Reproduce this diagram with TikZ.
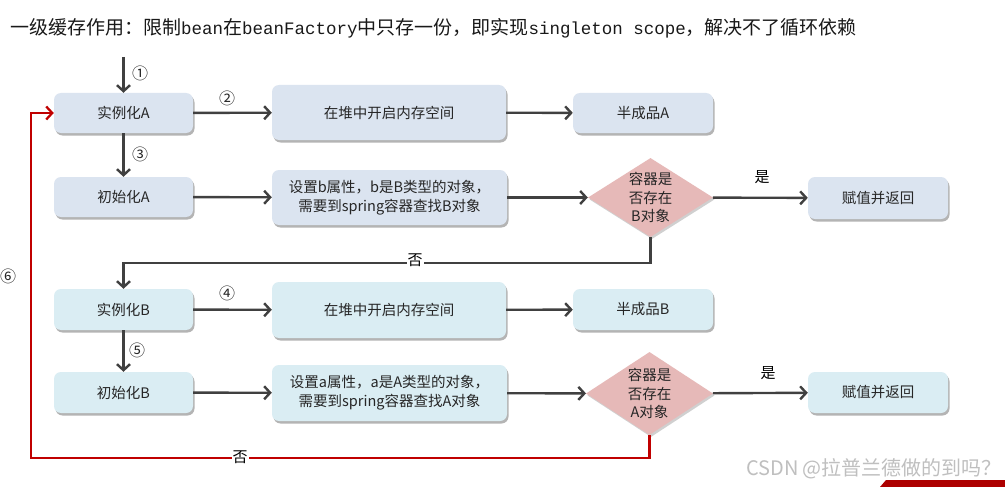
\documentclass[tikz,border=0pt]{standalone}
\usepackage{fontspec}
\setmainfont{Noto Sans CJK SC}
\newfontfamily\tmono{Liberation Mono}[Scale=0.92]
\usetikzlibrary{arrows.meta,shapes.geometric,shadows}
\definecolor{fillA}{RGB}{219,228,240}
\definecolor{fillB}{RGB}{218,237,243}
\definecolor{fillD}{RGB}{230,185,184}
\definecolor{linegray}{RGB}{64,64,64}
\definecolor{loopred}{RGB}{192,0,0}
\definecolor{inkgray}{RGB}{38,38,38}
\tikzset{
  box/.style={rounded corners=7pt, align=center, inner sep=0pt,
    font=\fontsize{14.5}{19}\selectfont, text=inkgray,
    drop shadow={shadow xshift=1.5pt, shadow yshift=-2.5pt, opacity=.45, fill=black!65}},
  boxA/.style={box, fill=fillA},
  boxB/.style={box, fill=fillB},
  decision/.style={diamond, fill=fillD, inner sep=-9pt, align=center,
    font=\fontsize{14.5}{18.5}\selectfont, text=inkgray,
    drop shadow={shadow xshift=1.5pt, shadow yshift=-2pt, opacity=.3, fill=black!60}},
  arr/.style={draw=linegray, line width=2.4pt, -{Straight Barb[length=6pt,width=13pt]}},
  redarr/.style={draw=loopred, line width=2.3pt, -{Straight Barb[length=6pt,width=13pt]}},
  num/.style={font=\fontsize{16}{16}\selectfont, text=inkgray, inner sep=0pt},
  lbl/.style={font=\fontsize{15}{15}\selectfont, text=black, inner sep=1pt},
}
\begin{document}
\begin{tikzpicture}[x=1pt,y=-1pt]
\useasboundingbox[fill=white] (0,0) rectangle (1005,487);

% heading
\node[anchor=west, inner sep=0pt, text=black!90, font=\fontsize{19}{19}\selectfont] (title) at (10,28)
  {一级缓存作用：限制{\tmono bean}在{\tmono beanFactory}中只存一份，即实现{\tmono singleton scope}，解决不了循环依赖};

% A chain
\node[boxA, minimum width=139pt, minimum height=40pt] (instA) at (123.5,113) {实例化A};
\node[boxA, minimum width=139pt, minimum height=40pt] (initA) at (123.5,197) {初始化A};
\node[boxA, minimum width=234pt, minimum height=55pt] (heapA) at (389,112.5) {在堆中开启内存空间};
\node[boxA, minimum width=140pt, minimum height=40pt] (halfA) at (643,113) {半成品A};
\node[boxA, minimum width=235pt, minimum height=55pt] (setB) at (389.5,197.5) {设置b属性，b是B类型的对象，\\需要到spring容器查找B对象};
\node[decision, minimum width=125pt, minimum height=79pt] (diaB) at (650.5,197.5) {容器是\\否存在\\B对象};
\node[boxA, minimum width=140pt, minimum height=42pt] (retA) at (878,198) {赋值并返回};

% B chain
\node[boxB, minimum width=139pt, minimum height=41pt] (instB) at (123.5,309.5) {实例化B};
\node[boxB, minimum width=139pt, minimum height=41pt] (initB) at (123.5,392.5) {初始化B};
\node[boxB, minimum width=234pt, minimum height=56pt] (heapB) at (389,310) {在堆中开启内存空间};
\node[boxB, minimum width=140pt, minimum height=41pt] (halfB) at (643,309.5) {半成品B};
\node[boxB, minimum width=235pt, minimum height=56pt] (setA) at (389.5,393) {设置a属性，a是A类型的对象，\\需要到spring容器查找A对象};
\node[decision, minimum width=127pt, minimum height=83pt] (diaA) at (649.5,393.5) {容器是\\否存在\\A对象};
\node[boxB, minimum width=140pt, minimum height=41pt] (retB) at (878,392.5) {赋值并返回};

% connectors
\coordinate (entry) at (123.5,57);
\coordinate (loopL) at (31,458);
\draw[arr] (entry) -- (instA);
\draw[arr] (instA) -- (heapA);
\draw[arr] (heapA) -- (halfA);
\draw[arr] (instA) -- (initA);
\draw[arr] (initA) -- (setB);
\draw[arr] (setB) -- (diaB);
\draw[arr] (diaB) -- (retA);
\draw[arr] (diaB.south) -- ++(0,26) -| (instB.north);
\draw[arr] (instB) -- (heapB);
\draw[arr] (heapB) -- (halfB);
\draw[arr] (instB) -- (initB);
\draw[arr] (initB) -- (setA);
\draw[arr] (setA) -- (diaA);
\draw[arr] (diaA) -- (retB);
\draw[redarr] (diaA.south) |- (loopL) |- (instA.west);

% step numbers and branch labels
\node[num] (n1) at (140,73) {①};
\node[num] (n2) at (227,98) {②};
\node[num] (n3) at (140,154) {③};
\node[num] (n4) at (227,293) {④};
\node[num] (n5) at (137,350) {⑤};
\node[num] (n6) at (8,276) {⑥};
\node[lbl] (yesB) at (762,177) {是};
\node[lbl] (yesA) at (768,373) {是};
\node[lbl, fill=white] (noB) at (415,260) {否};
\node[lbl, fill=white] (noA) at (240,457) {否};

% watermark and corner band
\node[text=black!25, font=\fontsize{20}{20}\selectfont, inner sep=0pt] (mark) at (874,469) {CSDN @拉普兰德做的到吗？};
\fill[loopred!90!black] (880,487) -- (886,480) -- (1005,480) -- (1005,487) -- cycle;
\end{tikzpicture}
\end{document}
